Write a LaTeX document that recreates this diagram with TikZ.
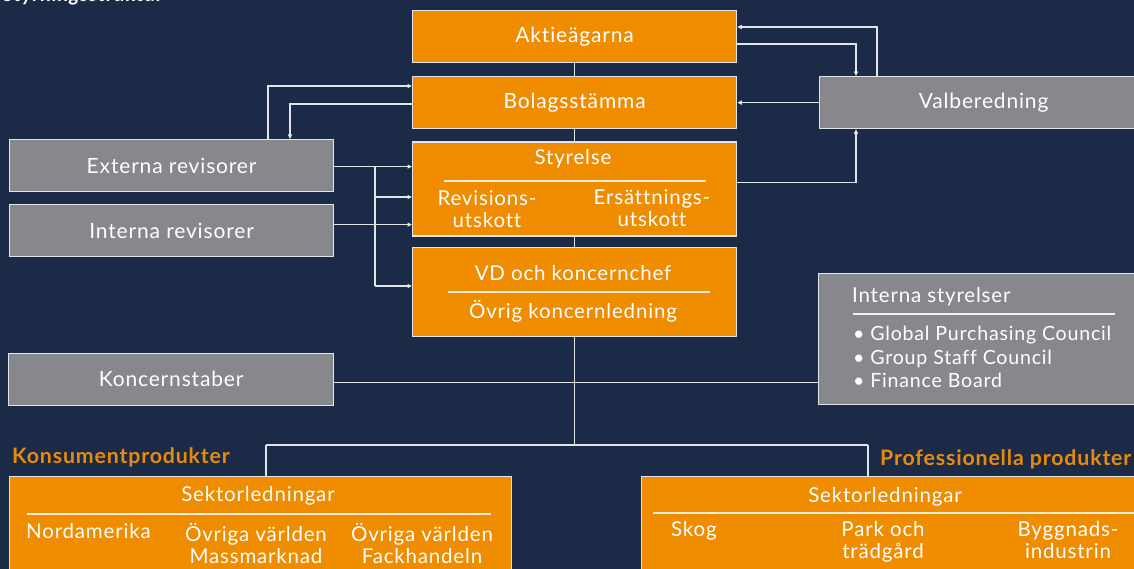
\documentclass[tikz,border=0pt]{standalone}
\usepackage{fontspec}
\setmainfont{Lato}[LetterSpace=4, Ligatures=NoCommon]
\usetikzlibrary{arrows.meta,calc}
\definecolor{bg}{HTML}{1B2A47}
\definecolor{org}{HTML}{F08C00}
\definecolor{gry}{HTML}{87888C}
\definecolor{ln}{HTML}{E2E4EA}
\definecolor{lbl}{HTML}{E88A0C}
\begin{document}
\begin{tikzpicture}[x=1pt,y=-1pt,
  box/.style={draw=ln, line width=1.3pt, anchor=north west, inner sep=0pt, text=white,
    font=\fontsize{21}{24}\selectfont},
  obox/.style={box, fill=org},
  gbox/.style={box, fill=gry},
  conn/.style={draw=ln, line width=1.3pt},
  arr/.style={conn, -{Triangle[length=4.5pt,width=4pt]}},
  txt/.style={text=white, inner sep=0pt, font=\fontsize{20.5}{22.5}\selectfont, align=center},
  sep/.style={draw=white!85!org, line width=1.2pt},
  grp/.style={text=lbl, inner sep=0pt, anchor=base west, font=\bfseries\fontsize{21.3}{24}\selectfont}]
\useasboundingbox (0,0) rectangle (1134,569);
\clip (0,0) rectangle (1134,569);
\fill[bg] (0,0) rectangle (1134,569);

\node[anchor=base west, inner sep=0pt, text=white, font=\bfseries\itshape\fontsize{20}{24}\selectfont] (title) at (3,1.5) {Styrningsstruktur};

% main column
\node[obox, minimum width=324pt, minimum height=52pt] (akt) at (412,10) {Aktieägarna};
\node[obox, minimum width=324pt, minimum height=52pt] (bol) at (412,76) {Bolagsstämma};
\node[obox, minimum width=324pt, minimum height=94pt] (sty) at (412,141.5) {};
\node[obox, minimum width=324pt, minimum height=89pt] (vd) at (412,247) {};

\node[txt] (styt) at (573,159) {Styrelse};
\draw[sep] (444,181) -- (706,181);
\node[txt] (rev) at (487,209) {Revisions-\\utskott};
\node[txt] (ers) at (652,208) {Ersättnings-\\utskott};

\node[txt] (vdt) at (573,273) {VD och koncernchef};
\draw[sep] (448,292) -- (710,292);
\node[txt] (ovr) at (573,311) {Övrig koncernledning};

% side boxes
\node[gbox, minimum width=330pt, minimum height=52pt] (val) at (819,76) {\hspace*{-2pt}Valberedning};
\node[gbox, minimum width=324pt, minimum height=52pt] (ext) at (9,139) {Externa revisorer};
\node[gbox, minimum width=324pt, minimum height=52pt] (int) at (9,204) {Interna revisorer};
\node[gbox, minimum width=325pt, minimum height=52pt] (kon) at (8,352.5) {Koncernstaber};
\node[gbox, minimum width=330pt, minimum height=131pt] (ist) at (818,273) {};
\node[txt, anchor=west] (istt) at (852,297) {Interna styrelser};
\draw[sep, draw=white!90!gry] (853,314) -- (1115,314);
\node[txt, anchor=west, align=left, font=\fontsize{19.6}{23.5}\selectfont] (istl) at (853,357)
  {\textbullet\ Global Purchasing Council\\\textbullet\ Group Staff Council\\\textbullet\ Finance Board};

% sector boxes
\node[grp] (kpl) at (12,463) {Konsumentprodukter};
\node[grp] (ppl) at (880,465) {Professionella produkter};
\node[obox, minimum width=502pt, minimum height=120pt] (kp) at (9,476) {};
\node[obox, minimum width=520pt, minimum height=120pt] (pp) at (641,476) {};

\node[txt] (kps) at (258,496) {Sektorledningar};
\draw[sep] (27,514) -- (491,514);
\node[txt, anchor=north west] (kp1) at (26,523) {Nordamerika};
\node[txt, anchor=north] (kp2) at (256,523) {Övriga världen\\Massmarknad};
\node[txt, anchor=north] (kp3) at (422,523) {Övriga världen\\Fackhandeln};

\node[txt] (pps) at (885,497) {Sektorledningar};
\draw[sep] (653,513) -- (1134,513);
\node[txt, anchor=north west] (pp1) at (671,521) {Skog};
\node[txt, anchor=north] (pp2) at (883,521) {Park och\\trädgård};
\node[txt, anchor=north] (pp3) at (1068,521) {Byggnads-\\industrin};

% connectors in main column
\draw[conn] (akt.south) -- (bol.north);
\draw[conn] (bol.south) -- (sty.north);
\draw[conn] (sty.south) -- (vd.north);
\coordinate (hub) at ($(vd.south)+(0,109)$);
\draw[conn] (vd.south) -- (hub);

% auditors <-> AGM
\draw[arr] ($(bol.north west)+(0,28)$) -| ($(ext.north west)+(281,0)$);
\draw[arr] ($(ext.north west)+(259,0)$) |- ($(bol.north west)+(0,10)$);

% nomination committee
\draw[arr] ($(akt.north east)+(0,34)$) -| ($(val.north west)+(37,0)$);
\draw[arr] ($(val.north west)+(58,0)$) |- ($(akt.north east)+(0,17)$);
\draw[arr] (val.west) -- (bol.east);
\draw[arr] ($(sty.north east)+(0,41)$) -| ($(val.south west)+(37,0)$);

% auditors -> board / CEO
\coordinate (e1) at ([yshift=-1pt]ext.east);
\draw[arr] (e1) -- (e1 -| sty.west);
\coordinate (i1) at ([yshift=6pt]int.east);
\draw[arr] (i1) -- (i1 -| sty.west);
\coordinate (bx1) at (375,166);
\coordinate (bx2) at (375,197);
\coordinate (bx3) at (375,286);
\draw[conn] (bx1) -- (bx3);
\draw[arr] (bx2) -- (bx2 -| sty.west);
\draw[arr] (bx3) -- (bx3 -| vd.west);

% staff line
\coordinate (k1) at ([yshift=-3.5pt]kon.east);
\draw[conn] (k1) -- (k1 -| ist.west);

% business areas
\coordinate (kl) at (266,445);
\coordinate (kr) at (868,445);
\draw[conn] (kl) -- (kr);
\draw[conn] (kl) -- (kl |- kp.north);
\draw[conn] (kr) -- (kr |- pp.north);
\end{tikzpicture}
\end{document}
